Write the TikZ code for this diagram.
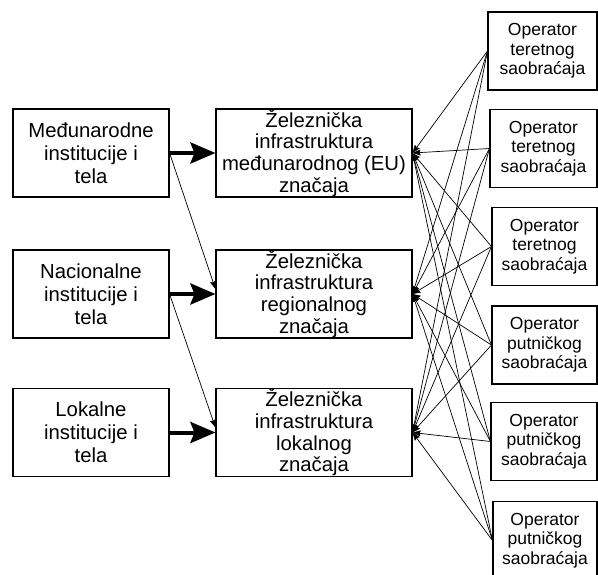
\documentclass[tikz,border=0pt]{standalone}
\usepackage{fontspec}
\setmainfont{Liberation Sans}
\usetikzlibrary{arrows.meta,calc}
\begin{document}
\begin{tikzpicture}[x=1pt,y=-1pt,
  box/.style={draw,line width=1.1pt,rectangle,inner sep=0pt,align=center},
  lbox/.style={box,minimum width=156pt,minimum height=88pt,font=\fontsize{20.3}{23}\selectfont},
  mbox/.style={box,minimum width=196pt,minimum height=88pt,font=\fontsize{20.3}{21.7}\selectfont},
  rbox/.style={box,minimum width=#1,minimum height=78pt,font=\fontsize{17.5}{19.5}\selectfont},
  thick arrow/.style={line width=4pt,-{Stealth[length=25pt,width=21pt,inset=4pt]}},
  thin arrow/.style={line width=0.7pt,-{Stealth[length=8pt,width=6pt,inset=1pt]}}]
\clip (0,0) rectangle (598,574);
\node[lbox] (l1) at (91,153) {Međunarodne\\institucije i\\tela};
\node[lbox] (l2) at (91,294) {Nacionalne\\institucije i\\tela};
\node[lbox] (l3) at (91,432.5) {Lokalne\\institucije i\\tela};
\node[mbox] (m1) at (314,153) {Železnička\\infrastruktura\\međunarodnog (EU)\\značaja};
\node[mbox] (m2) at (314,294) {Železnička\\infrastruktura\\regionalnog\\značaja};
\node[mbox] (m3) at (314,432.5) {Železnička\\infrastruktura\\lokalnog\\značaja};
\node[rbox=109pt] (o1) at (542.5,51) {Operator\\teretnog\\saobraćaja};
\node[rbox=107pt] (o2) at (543.5,148.5) {Operator\\teretnog\\saobraćaja};
\node[rbox=105pt] (o3) at (544.5,246.5) {Operator\\teretnog\\saobraćaja};
\node[rbox=105pt] (o4) at (544.5,345) {Operator\\putničkog\\saobraćaja};
\node[rbox=106pt] (o5) at (544,441.5) {Operator\\putničkog\\saobraćaja};
\node[rbox=104pt] (o6) at (545,540.5) {Operator\\putničkog\\saobraćaja};
\draw[thick arrow] (l1) -- (m1);
\draw[thick arrow] (l2) -- (m2);
\draw[thick arrow] (l3) -- (m3);
\coordinate (t2) at ($(m2.west)+(0,-5)$);
\coordinate (t3) at ($(m3.west)+(0,-5)$);
\draw[thin arrow] (l1.east) -- (t2);
\draw[thin arrow] (l2.east) -- (t3);
\foreach \o in {o1,o2,o3,o4,o5,o6}{
  \foreach \m in {m1,m2,m3}{
    \draw[thin arrow] (\o.west) -- (\m.east);
  }
}
\end{tikzpicture}
\end{document}
